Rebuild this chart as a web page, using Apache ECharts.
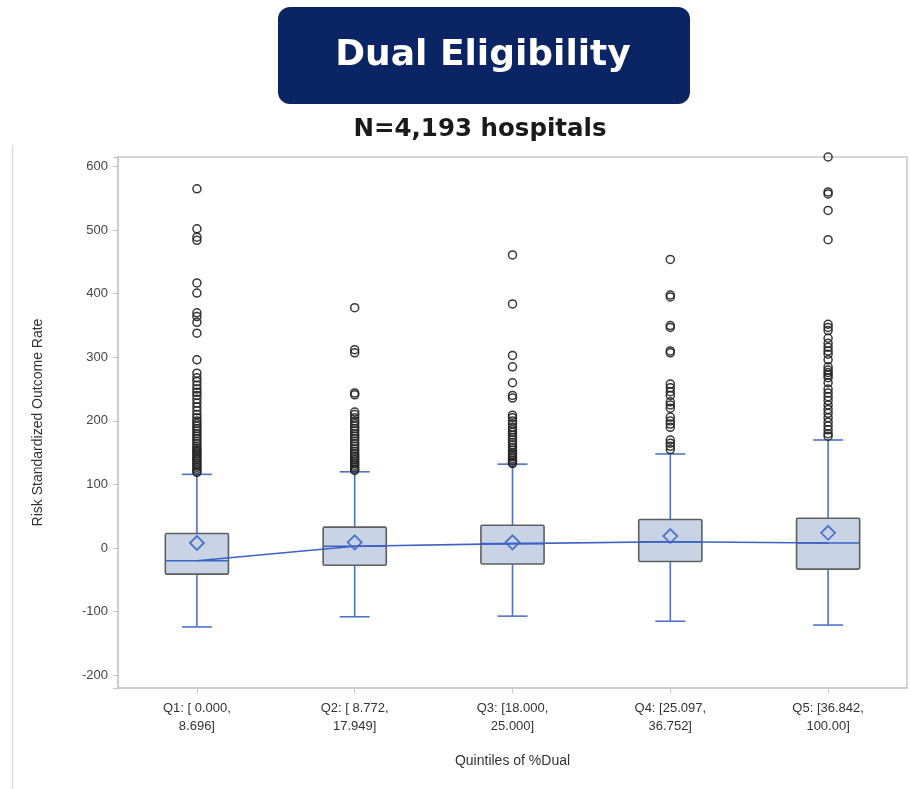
<!DOCTYPE html>
<html>
<head>
<meta charset="utf-8">
<script src="https://cdn.jsdelivr.net/npm/echarts@6/dist/echarts.min.js"></script>
<style>
  html, body { margin: 0; padding: 0; background: #ffffff; }
  #chart { width: 911px; height: 789px; }
</style>
</head>
<body>
<div id="chart"></div>
<script>
// Quintile categories of %Dual
const categories = [
  'Q1: [ 0.000,\n8.696]',
  'Q2: [ 8.772,\n17.949]',
  'Q3: [18.000,\n25.000]',
  'Q4: [25.097,\n36.752]',
  'Q5: [36.842,\n100.00]'
];

// Box statistics per quintile
const whiskerLow = [-124, -108, -107, -115, -121];
const quartile1  = [-41, -27, -25, -21, -33];
const medians    = [-20, 3, 7, 10, 8];
const quartile3  = [23, 33, 36, 45, 47];
const whiskerHigh = [116, 120, 132, 148, 170];
const means      = [8, 9, 9, 19, 24];

// Outlying hospitals per quintile
const outliersQ1 = [565, 502, 489, 484, 417, 401, 370, 364, 355, 338, 296, 275, 268, 262, 256, 250,
  245, 240, 234, 228, 222, 216, 210, 205, 200, 196, 192, 188, 184, 180, 176, 172, 168, 164, 160,
  157, 154, 151, 148, 145, 142, 139, 136, 133, 130, 127, 124, 121, 119];
const outliersQ2 = [378, 312, 307, 244, 241, 214, 210, 205, 200, 196, 192, 188, 184, 180, 176, 172,
  168, 164, 160, 156, 152, 148, 145, 142, 139, 136, 133, 130, 127, 124, 122];
const outliersQ3 = [461, 384, 303, 285, 260, 240, 236, 209, 205, 200, 195, 190, 186, 182, 178, 174,
  170, 166, 162, 158, 154, 150, 147, 144, 141, 138, 135, 133];
const outliersQ4 = [454, 398, 395, 350, 347, 310, 307, 258, 252, 246, 240, 230, 225, 220, 206, 200,
  195, 190, 170, 165, 160, 155];
const outliersQ5 = [615, 560, 557, 531, 485, 352, 347, 342, 330, 322, 316, 310, 305, 296, 285, 280,
  276, 272, 268, 260, 250, 244, 238, 232, 225, 218, 212, 205, 198, 192, 186, 180, 176];

// Y-axis range of the plot area
const yMin = -220;
const yMax = 615;

const outlierGroups = [outliersQ1, outliersQ2, outliersQ3, outliersQ4, outliersQ5];
const outlierPoints = [];
outlierGroups.forEach((vals, i) => vals.forEach(v => outlierPoints.push([i, v])));

const boxData = categories.map((c, i) => [i, whiskerLow[i], quartile1[i], medians[i], quartile3[i], whiskerHigh[i], means[i]]);

const BLUE = '#4f72c8';
const LINE_BLUE = '#3c62c2';
const LABEL_FONT = 'Liberation Sans';

function renderBox(params, api) {
  const i = api.value(0);
  const band = api.size([1, 0])[0];
  const boxW = band * 0.4;
  const capW = band * 0.19;
  const pLow = api.coord([i, api.value(1)]);
  const pQ1 = api.coord([i, api.value(2)]);
  const pMed = api.coord([i, api.value(3)]);
  const pQ3 = api.coord([i, api.value(4)]);
  const pHigh = api.coord([i, api.value(5)]);
  const pMean = api.coord([i, api.value(6)]);
  const x = pMed[0];
  const d = 7;
  const wStyle = { stroke: BLUE, lineWidth: 1.6 };
  return {
    type: 'group',
    children: [
      { type: 'line', shape: { x1: x, y1: pHigh[1], x2: x, y2: pQ3[1] }, style: wStyle },
      { type: 'line', shape: { x1: x, y1: pQ1[1], x2: x, y2: pLow[1] }, style: wStyle },
      { type: 'line', shape: { x1: x - capW / 2, y1: pHigh[1], x2: x + capW / 2, y2: pHigh[1] }, style: wStyle },
      { type: 'line', shape: { x1: x - capW / 2, y1: pLow[1], x2: x + capW / 2, y2: pLow[1] }, style: wStyle },
      {
        type: 'rect',
        shape: { x: x - boxW / 2, y: pQ3[1], width: boxW, height: pQ1[1] - pQ3[1], r: 1.5 },
        style: { fill: '#c8d4e6', stroke: '#5e5e5e', lineWidth: 1.6 }
      },
      { type: 'line', shape: { x1: x - boxW / 2, y1: pMed[1], x2: x + boxW / 2, y2: pMed[1] }, style: { stroke: LINE_BLUE, lineWidth: 1.6 } },
      {
        type: 'polygon',
        shape: { points: [[x, pMean[1] - d], [x + d, pMean[1]], [x, pMean[1] + d], [x - d, pMean[1]]] },
        style: { fill: 'none', stroke: BLUE, lineWidth: 1.8 }
      }
    ]
  };
}

const chart = echarts.init(document.getElementById('chart'), null, { renderer: 'canvas' });

chart.setOption({
  backgroundColor: '#ffffff',
  animation: false,
  graphic: [
    {
      type: 'line',
      shape: { x1: 12.5, y1: 145, x2: 12.5, y2: 789 },
      style: { stroke: '#dcdcdc', lineWidth: 1.5 }
    },
    {
      type: 'rect',
      shape: { x: 278, y: 7, width: 412, height: 97, r: 12 },
      style: { fill: '#0b2463' }
    },
    {
      type: 'text',
      x: 483, y: 56,
      style: {
        text: 'Dual Eligibility',
        fill: '#ffffff',
        font: 'bold 36px "DejaVu Sans"',
        align: 'center',
        verticalAlign: 'middle'
      }
    },
    {
      type: 'text',
      x: 480, y: 130,
      style: {
        text: 'N=4,193 hospitals',
        fill: '#1a1a1a',
        font: 'bold 24.5px "DejaVu Sans"',
        align: 'center',
        verticalAlign: 'middle'
      }
    }
  ],
  grid: {
    left: 118, top: 157, right: 4, bottom: 101,
    show: true,
    borderColor: '#c8c8c8',
    borderWidth: 1.5,
    backgroundColor: 'transparent'
  },
  xAxis: {
    type: 'category',
    data: categories,
    boundaryGap: true,
    name: 'Quintiles of %Dual',
    nameLocation: 'middle',
    nameGap: 66,
    nameTextStyle: { fontFamily: LABEL_FONT, fontSize: 14, color: '#333' },
    axisLine: { show: true, onZero: false, lineStyle: { color: '#c8c8c8', width: 1.5 } },
    axisTick: { show: true, alignWithLabel: true, length: 5, lineStyle: { color: '#c8c8c8' } },
    axisLabel: {
      fontFamily: LABEL_FONT,
      fontSize: 13,
      color: '#333',
      lineHeight: 18,
      margin: 11,
      interval: 0
    },
    splitLine: { show: false }
  },
  yAxis: {
    type: 'value',
    min: yMin,
    max: yMax,
    minInterval: 100,
    maxInterval: 100,
    name: 'Risk Standardized Outcome Rate',
    nameLocation: 'middle',
    nameGap: 73,
    nameRotate: 90,
    nameTextStyle: { fontFamily: LABEL_FONT, fontSize: 14, color: '#333' },
    axisLine: { show: true, lineStyle: { color: '#c8c8c8', width: 1.5 } },
    axisTick: { show: true, length: 5, lineStyle: { color: '#c8c8c8' } },
    axisLabel: {
      fontFamily: LABEL_FONT,
      fontSize: 13,
      color: '#444',
      margin: 10,
      formatter: v => (v % 100 === 0 ? String(v) : '')
    },
    splitLine: { show: false }
  },
  series: [
    {
      type: 'custom',
      name: 'box',
      renderItem: renderBox,
      data: boxData,
      encode: { x: 0, y: [1, 2, 3, 4, 5, 6] },
      z: 2
    },
    {
      type: 'line',
      name: 'median',
      data: medians,
      symbol: 'none',
      lineStyle: { color: LINE_BLUE, width: 1.6 },
      z: 3
    },
    {
      type: 'scatter',
      name: 'outliers',
      data: outlierPoints,
      symbol: 'circle',
      symbolSize: 8,
      itemStyle: { color: 'rgba(255,255,255,0)', borderColor: '#222222', borderWidth: 1.5, opacity: 0.9 },
      z: 4
    }
  ]
});
</script>
</body>
</html>
